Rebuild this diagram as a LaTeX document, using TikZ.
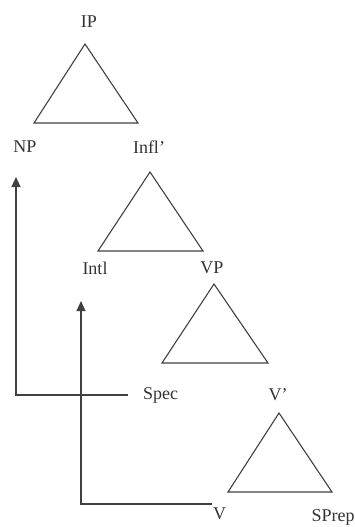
\documentclass[tikz,border=0pt]{standalone}
\usepackage{fontspec}
\setmainfont{Liberation Serif}
\usetikzlibrary{arrows.meta}
\begin{document}
\begin{tikzpicture}[x=1pt,y=-1pt,
  lbl/.style={inner sep=0pt,font=\fontsize{18}{20}\selectfont,text=black!80},
  tri/.style={draw=black!75,line width=1.1pt,line join=miter},
  move/.style={draw=black!75,line width=1.1pt,-{Triangle[length=10pt,width=9pt]}}]
\useasboundingbox (0,0) rectangle (354,527);
% constituent triangles
\draw[tri] (85,44) -- (34,123) -- (138,123) -- cycle;
\draw[tri] (150,172) -- (98,251) -- (203,251) -- cycle;
\draw[tri] (214,284) -- (162,363) -- (268,363) -- cycle;
\draw[tri] (279,413) -- (228,492) -- (332,492) -- cycle;
% category labels
\node[lbl] (ip) at (89,22) {IP};
\node[lbl] (np) at (25,147) {NP};
\node[lbl] (inflbar) at (149,147) {Infl’};
\node[lbl] (infl) at (95,268) {Intl};
\node[lbl] (vp) at (212,268) {VP};
\node[lbl,anchor=west] (spec) at (143,395) {Spec};
\node[lbl] (vbar) at (278,395) {V’};
\node[lbl,anchor=west] (v) at (213,514) {V};
\node[lbl] (sprep) at (333,517) {SPrep};
% movement arrows
\coordinate (t1) at (16,177);
\coordinate (t2) at (81,301);
\draw[move] ([xshift=-15pt]spec.west) -- (16,395) -- (t1);
\draw[move] ([xshift=-1pt]v.west |- 0,504) -- (81,504) -- (t2);
\end{tikzpicture}
\end{document}
